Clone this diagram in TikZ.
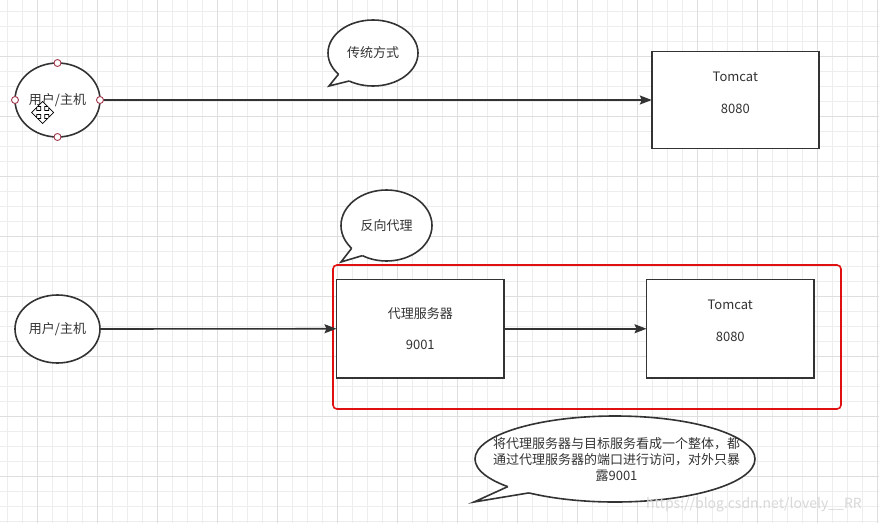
\documentclass[tikz,border=0pt]{standalone}
\usepackage{fontspec}
\setmainfont{Noto Sans CJK SC}
\usetikzlibrary{arrows.meta,shapes.geometric,calc}
\definecolor{inkc}{HTML}{333333}
\definecolor{txtc}{HTML}{333333}
\definecolor{gridminor}{HTML}{EDEDED}
\definecolor{gridmajor}{HTML}{DEDEDE}
\definecolor{redc}{HTML}{E01010}
\definecolor{handlec}{HTML}{A33A4E}
\definecolor{wmark}{HTML}{D8D8D8}
\tikzset{
  ink/.style={draw=inkc, line width=1.6pt},
  txt/.style={text=txtc, font=\fontsize{13}{16.2}\selectfont, inner sep=0pt},
  usernode/.style={ink, fill=white, ellipse, minimum width=85pt, inner sep=0pt, outer sep=0pt, txt},
  boxnode/.style={ink, fill=white, rectangle, inner sep=0pt, outer sep=0pt},
  link/.style={ink, -{Stealth[length=12pt,width=9pt,inset=2pt]}},
  handle/.style={circle, draw=handlec, fill=white, line width=0.9pt, minimum size=7pt, inner sep=0pt},
  bubble/.style={ink, fill=white},
  bubblenode/.style={bubble, ellipse, inner sep=0pt, outer sep=0pt, txt},
  tail/.style={ink, line join=miter},
  frame/.style={draw=redc, line width=1.6pt, rounded corners=4pt, inner sep=0pt, outer sep=0pt},
}
\begin{document}
\begin{tikzpicture}[x=1pt,y=-1pt]
\useasboundingbox (0,0) rectangle (879,523);
\fill[white] (0,0) rectangle (879,523);
% grid
\foreach \gx in {7,22,...,877} \draw[gridminor, line width=0.9pt] (\gx,0) -- (\gx,523);
\foreach \gy in {11.7,26.7,...,521.7} \draw[gridminor, line width=0.9pt] (0,\gy) -- (879,\gy);
\foreach \gx in {37,97,...,877} \draw[gridmajor, line width=0.9pt] (\gx,0) -- (\gx,523);
\foreach \gy in {56.7,116.7,...,516.7} \draw[gridmajor, line width=0.9pt] (0,\gy) -- (879,\gy);

% ---- top: traditional ----
\node[usernode, minimum height=74pt] (user1) at (57.5,100) {用户/主机};
\node[boxnode, minimum width=167pt, minimum height=97pt] (tomcat1) at (735.3,100) {};
\node[txt] (tomcat1name) at (735.3,76.7) {Tomcat};
\node[txt] (tomcat1port) at (735.3,109) {8080};
\draw[link] (user1.east) -- (tomcat1.west);

\node[handle] (h1n) at (user1.north) {};
\node[handle] (h1s) at (user1.south) {};
\node[handle] (h1w) at (user1.west) {};
\node[handle] (h1e) at (user1.east) {};

% move cursor
\draw[fill=white, draw=black, line width=0.7pt, line join=miter, shift={(42.7,112.5)}]
  (0,-11) -- (5,-6) -- (2,-6) -- (2,-2) -- (6,-2) -- (6,-5) -- (11,0) -- (6,5) -- (6,2) -- (2,2)
  -- (2,6) -- (5,6) -- (0,11) -- (-5,6) -- (-2,6) -- (-2,2) -- (-6,2) -- (-6,5) -- (-11,0)
  -- (-6,-5) -- (-6,-2) -- (-2,-2) -- (-2,-6) -- (-5,-6) -- cycle;

% bubble 1
\node[bubblenode, minimum width=90pt, minimum height=66pt] (bubble1) at (373,53) {传统方式};
\coordinate (b1tip) at (329,86);
\fill[white] ($(bubble1.center)+(140:39 and 27)$) -- ($(bubble1.center)+(140:45 and 33)$) -- (b1tip)
  -- ($(bubble1.center)+(122:45 and 33)$) -- ($(bubble1.center)+(122:39 and 27)$) -- cycle;
\draw[tail] ($(bubble1.center)+(140:45 and 33)$) -- (b1tip) -- ($(bubble1.center)+(122:45 and 33)$);

% ---- bottom: reverse proxy ----
\node[frame, minimum width=508pt, minimum height=144pt] (proxyframe) at (587,337) {};
\node[usernode, minimum height=68pt] (user2) at (57.5,329) {用户/主机};
\node[boxnode, minimum width=167.5pt, minimum height=98.5pt] (proxy) at (420.25,328.75) {};
\node[txt] (proxyname) at (420.25,313.3) {代理服务器};
\node[txt] (proxyport) at (420.25,345) {9001};
\node[boxnode, minimum width=167.5pt, minimum height=98.5pt] (tomcat2) at (730.25,328.75) {};
\node[txt] (tomcat2name) at (730.25,305) {Tomcat};
\node[txt] (tomcat2port) at (730.25,336.7) {8080};
\draw[link] (user2.east) -- (proxy.west);
\draw[link] (proxy.east) -- (tomcat2.west);

% bubble 2
\node[bubblenode, minimum width=91pt, minimum height=71pt] (bubble2) at (386.5,225.5) {反向代理};
\coordinate (b2tip) at (341,262);
\fill[white] ($(bubble2.center)+(140:39.5 and 29.5)$) -- ($(bubble2.center)+(140:45.5 and 35.5)$) -- (b2tip)
  -- ($(bubble2.center)+(122:45.5 and 35.5)$) -- ($(bubble2.center)+(122:39.5 and 29.5)$) -- cycle;
\draw[tail] ($(bubble2.center)+(140:45.5 and 35.5)$) -- (b2tip) -- ($(bubble2.center)+(122:45.5 and 35.5)$);

% note bubble
\coordinate (notec) at (615,459);
\draw[bubble] (notec) ellipse [x radius=140, y radius=43];
\coordinate (notetip) at (474,502);
\fill[white] ($(notec)+(140:132 and 37)$) -- ($(notec)+(140:140 and 43)$) -- (notetip)
  -- ($(notec)+(128:140 and 43)$) -- ($(notec)+(128:132 and 37)$) -- cycle;
\draw[tail] ($(notec)+(140:140 and 43)$) -- (notetip) -- ($(notec)+(128:140 and 43)$);
\node[txt, align=center] (note) at (616.5,459.5) {将代理服务器与目标服务看成一个整体，都\\通过代理服务器的端口进行访问，对外只暴\\露9001};

% watermark
\node[text=wmark, font=\fontsize{14}{14}\selectfont, inner sep=0pt] (wm) at (754,505) {https://blog.csdn.net/lovely\_\_RR};
\end{tikzpicture}
\end{document}
